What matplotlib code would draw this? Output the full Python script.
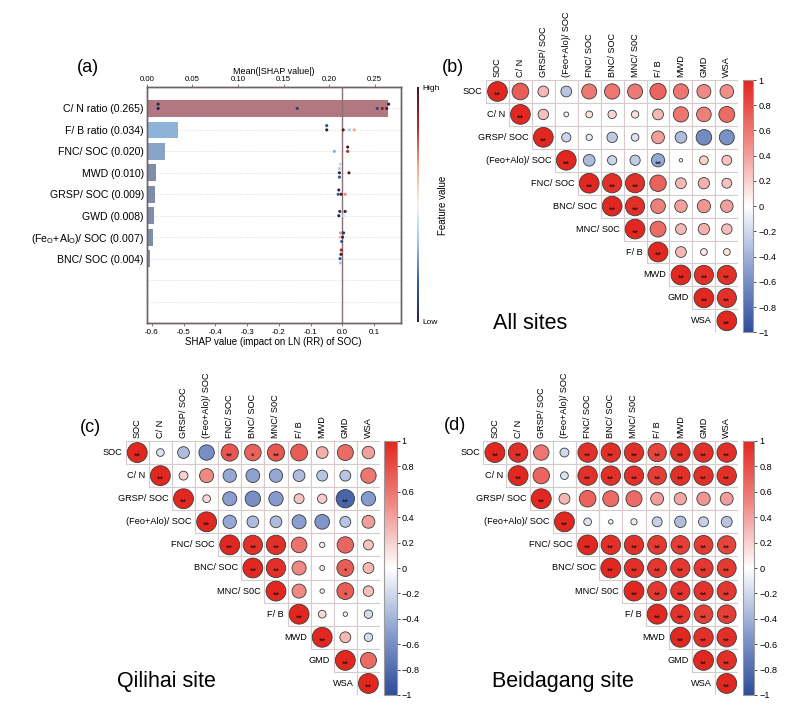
import numpy as np
import matplotlib
matplotlib.use('Agg')
import matplotlib.pyplot as plt
from matplotlib.colors import LinearSegmentedColormap, Normalize
from matplotlib.cm import ScalarMappable
from matplotlib.patches import Circle, Rectangle

plt.rcParams['font.family'] = ['Liberation Sans', 'DejaVu Sans']
plt.rcParams['mathtext.fontset'] = 'custom'
plt.rcParams['mathtext.rm'] = 'Liberation Sans'

# ---------------- data: panel (a) SHAP ----------------
shap_labels = ['C/ N ratio (0.265)', 'F/ B ratio (0.034)', 'FNC/ SOC (0.020)', 'MWD (0.010)',
               'GRSP/ SOC (0.009)', 'GWD (0.008)',
               r'(Fe$_\mathregular{O}$+Al$_\mathregular{O}$)/ SOC (0.007)', 'BNC/ SOC (0.004)']
mean_shap = [0.265, 0.034, 0.020, 0.010, 0.009, 0.008, 0.007, 0.004]
bar_colors = ['#b27882', '#8fb3d8', '#8aa4c8', '#7f8caa', '#7f8caa', '#7f8caa', '#7f8caa', '#7f8caa']

# shap values and (scaled) feature values for each feature row
shap_cn = [-0.58, -0.58, -0.142, 0.110, 0.126, 0.140, 0.146]
feat_cn = [0.0, 0.02, 0.08, 0.10, 0.90, 0.95, 1.0]
shap_fb = [-0.049, -0.049, 0.003, 0.022, 0.038]
feat_fb = [0.0, 0.13, 0.97, 0.36, 0.66]
shap_fnc = [-0.025, 0.017, 0.017]
feat_fnc = [0.30, 0.85, 1.0]
shap_mwd = [-0.009, -0.009, -0.009, -0.006, 0.021]
feat_mwd = [0.02, 0.36, 0.15, 0.40, 0.97]
shap_grsp = [-0.013, -0.011, -0.004, 0.009]
feat_grsp = [0.15, 0.02, 0.98, 0.70]
shap_gwd = [-0.011, -0.008, 0.003, 0.009]
feat_gwd = [0.02, 0.05, 0.40, 0.97]
shap_fe = [-0.007, -0.005, -0.002, 0.001, 0.004]
feat_fe = [0.62, 0.70, 0.15, 0.02, 0.05]
shap_bnc = [-0.007, -0.004, -0.006, -0.003]
feat_bnc = [0.15, 0.98, 0.35, 0.85]
shap_all = [shap_cn, shap_fb, shap_fnc, shap_mwd, shap_grsp, shap_gwd, shap_fe, shap_bnc]
feat_all = [feat_cn, feat_fb, feat_fnc, feat_mwd, feat_grsp, feat_gwd, feat_fe, feat_bnc]

# ---------------- data: correlation panels ----------------
corr_labels = ['SOC', 'C/ N', 'GRSP/ SOC', '(Feo+Alo)/ SOC', 'FNC/ SOC', 'BNC/ SOC',
               'MNC/ S0C', 'F/ B', 'MWD', 'GMD', 'WSA']

# upper triangle rows (diagonal first)
r_all = [
    [1, 0.72, 0.30, -0.30, 0.58, 0.60, 0.58, 0.68, 0.60, 0.50, 0.48],
    [1, 0.28, 0.06, 0.12, 0.18, 0.14, 0.30, 0.60, 0.55, 0.65],
    [1, -0.22, -0.10, -0.28, -0.15, 0.42, -0.35, -0.62, -0.58],
    [1, -0.35, -0.22, -0.27, -0.45, -0.03, 0.20, 0.25],
    [1, 0.95, 0.95, 0.70, 0.30, 0.33, 0.25],
    [1, 0.95, 0.55, 0.40, 0.45, 0.40],
    [1, 0.65, 0.30, 0.33, 0.28],
    [1, 0.30, 0.12, 0.12],
    [1, 0.95, 0.95],
    [1, 0.95],
    [1],
]
sig_all = ['20000000000', '2000000000', '200000000', '20002000', '2220000',
           '220000', '20000', '2000', '222', '22', '2']

r_qili = [
    [1, -0.15, -0.35, -0.60, 0.75, 0.70, 0.75, 0.72, 0.35, 0.65, 0.40],
    [1, 0.20, 0.50, -0.45, -0.48, -0.45, -0.35, -0.30, -0.30, 0.60],
    [1, 0.15, -0.50, -0.60, -0.52, 0.25, 0.22, -0.85, -0.52],
    [1, -0.45, -0.35, -0.35, -0.50, -0.55, -0.30, 0.42],
    [1, 0.95, 0.95, 0.62, 0.07, 0.68, 0.25],
    [1, 0.95, 0.50, 0.06, 0.72, 0.30],
    [1, 0.50, 0.05, 0.72, 0.28],
    [1, 0.15, 0.05, -0.18],
    [1, 0.30, -0.18],
    [1, 0.65],
    [1],
]
sig_qili = ['20002120000', '2000000000', '200000020', '20000000', '2220000',
            '220010', '20010', '2000', '200', '20', '2']

r_beid = [
    [1, 0.95, 0.60, -0.20, 0.95, 0.95, 0.95, 0.85, 0.95, 0.95, 0.95],
    [1, 0.68, -0.15, 0.95, 0.95, 0.95, 0.88, 0.95, 0.95, 0.95],
    [1, 0.30, 0.70, 0.65, 0.65, 0.42, 0.38, 0.45, 0.42],
    [1, -0.15, -0.05, -0.10, -0.25, -0.33, -0.25, -0.30],
    [1, 0.95, 0.95, 0.90, 0.88, 0.90, 0.85],
    [1, 0.95, 0.92, 0.92, 0.92, 0.90],
    [1, 0.92, 0.93, 0.93, 0.92],
    [1, 0.93, 0.88, 0.88],
    [1, 0.95, 0.95],
    [1, 0.95],
    [1],
]
sig_beid = ['22002222222', '2002222222', '200000000', '20000000', '2222222',
            '222222', '22222', '2222', '222', '22', '2']

# ---------------- figure ----------------
fig = plt.figure(figsize=(7.98, 7.10), dpi=100)
W, H = 798.0, 710.0


def fax(x0, y0, x1, y1):
    # pixel box -> figure axes
    return fig.add_axes([x0 / W, 1 - y1 / H, (x1 - x0) / W, (y1 - y0) / H])


shap_cmap = LinearSegmentedColormap.from_list(
    'shap', ['#25253f', '#2f5d9e', '#9cc4e0', '#f7f4f2', '#f4a582', '#b8282e', '#3d1a1f'])
spine_c = '#6e6262'

ax = fax(146.7, 87, 400.7, 323)
nrow = 10
for i in range(nrow):
    ax.axhline(i, color='#cfcfcf', ls=(0, (1, 2)), lw=0.6, zorder=0)
ax.barh(range(len(mean_shap)), mean_shap, height=0.78, color=bar_colors, zorder=2)
ax.set_ylim(10.0, -1.0)
ax.set_xlim(0, 0.2785)
ax.set_yticks(range(len(shap_labels)))
ax.set_yticklabels(shap_labels, fontsize=7.6)
ax.tick_params(axis='y', length=0, pad=2)

ax2 = ax.twiny()
# after twiny: bars axis on top, SHAP axis at bottom
ax.xaxis.tick_top()
ax.xaxis.set_label_position('top')
ax.set_xticks([0.0, 0.05, 0.10, 0.15, 0.20, 0.25])
ax.set_xticklabels(['0.00', '0.05', '0.10', '0.15', '0.20', '0.25'])
ax.set_xlabel('Mean(|SHAP value|)', fontsize=6.5, labelpad=1)
ax.tick_params(axis='x', labelsize=5.6, length=2, width=0.6, pad=1, color=spine_c)

ax2.set_xlim(-0.616, 0.184)
ax2.xaxis.tick_bottom()
ax2.xaxis.set_label_position('bottom')
ax2.set_xticks([-0.6, -0.5, -0.4, -0.3, -0.2, -0.1, 0.0, 0.1])
ax2.set_xticklabels(['-0.6', '-0.5', '-0.4', '-0.3', '-0.2', '-0.1', '0.0', '0.1'])
ax2.tick_params(axis='x', labelsize=5.8, length=2, width=0.6, pad=2, color=spine_c)
ax2.set_xlabel('SHAP value (impact on LN (RR) of SOC)', fontsize=7, labelpad=1)
for a in (ax, ax2):
    for s in a.spines.values():
        s.set_color(spine_c)
        s.set_linewidth(1.0)
ax2.axvline(0, color='#8a7070', lw=1.0, zorder=3)

# simple swarm placement
tol, step = 0.006, 0.2
for row, (xs, fv) in enumerate(zip(shap_all, feat_all)):
    placed = []
    ys = []
    for x in xs:
        for k in range(12):
            off = ((k + 1) // 2) * step * (-1 if k % 2 else 1)
            if all(not (abs(x - px) < tol and abs(off - po) < 1e-9) for px, po in placed):
                break
        placed.append((x, off))
        ys.append(row + off)
    ax2.scatter(xs, ys, c=[shap_cmap(v) for v in fv], s=5, linewidths=0, zorder=4)

cax_a = fax(416.7, 87, 419.4, 322)
cb = fig.colorbar(ScalarMappable(Normalize(0, 1), shap_cmap), cax=cax_a)
cb.set_ticks([])
cb.outline.set_visible(False)
fig.text(422.5 / W, 1 - 88.5 / H, 'High', fontsize=6, ha='left', va='center')
fig.text(422.5 / W, 1 - 322.5 / H, 'Low', fontsize=6, ha='left', va='center')
fig.text(443 / W, 1 - 205 / H, 'Feature value', fontsize=7, rotation=90, ha='center', va='center')

# ---------------- correlation panels ----------------
corr_cmap = LinearSegmentedColormap.from_list(
    'corr', ['#2e4d9b', '#8a9fcf', '#ffffff', '#f08a85', '#e1271f'])
corr_norm = Normalize(-1, 1)


def draw_corr(box, cbox, rows, sig):
    axc = fax(*box)
    n = len(corr_labels)
    for i, row in enumerate(rows):
        for k, r in enumerate(row):
            j = i + k
            axc.add_patch(Rectangle((j, i), 1, 1, fc='white', ec='#d8caca', lw=0.8))
            rad = 0.43 * np.sqrt(abs(r))
            axc.add_patch(Circle((j + 0.5, i + 0.5), rad, fc=corr_cmap(corr_norm(r)),
                                 ec='#3a3a3a', lw=0.6))
            stars = '*' * int(sig[i][k])
            if stars:
                axc.text(j + 0.5, i + 0.66, stars, ha='center', va='center',
                         fontsize=6.5, color='#111111')
    for j, lab in enumerate(corr_labels):
        axc.text(j + 0.5, -0.12, lab, rotation=90, ha='center', va='bottom', fontsize=6.6)
        axc.text(j - 0.15, j + 0.5, lab, ha='right', va='center', fontsize=6.6)
    axc.set_xlim(0, n)
    axc.set_ylim(n, 0)
    axc.axis('off')

    cax = fax(*cbox)
    cbar = fig.colorbar(ScalarMappable(corr_norm, corr_cmap), cax=cax)
    ticks = [1, 0.8, 0.6, 0.4, 0.2, 0, -0.2, -0.4, -0.6, -0.8, -1]
    cbar.set_ticks(ticks)
    cbar.set_ticklabels([f'{t:g}'.replace('-', '\u2212') for t in ticks])
    cbar.ax.tick_params(labelsize=6.6, length=2, width=0.5, pad=1.5)
    cbar.outline.set_edgecolor('#9a9a9a')
    cbar.outline.set_linewidth(0.8)
    return axc


draw_corr((486, 80, 738.3, 332.3), (742.7, 80, 753.3, 332.3), r_all, sig_all)
draw_corr((125.7, 441, 380, 695), (384, 441, 396.7, 695), r_qili, sig_qili)
draw_corr((483.3, 441, 738.3, 695), (742.7, 441, 754.3, 695), r_beid, sig_beid)

# panel letters and site names
for lab, x, y in [('(a)', 88, 67), ('(b)', 453, 68), ('(c)', 90, 428), ('(d)', 455, 425)]:
    fig.text(x / W, 1 - y / H, lab, fontsize=13, ha='center', va='center')
for lab, x, y in [('All sites', 493, 323), ('Qilihai site', 117, 682), ('Beidagang site', 491.7, 682)]:
    fig.text(x / W, 1 - y / H, lab, fontsize=15.5, ha='left', va='center')

fig.savefig('out.png', dpi=100)
